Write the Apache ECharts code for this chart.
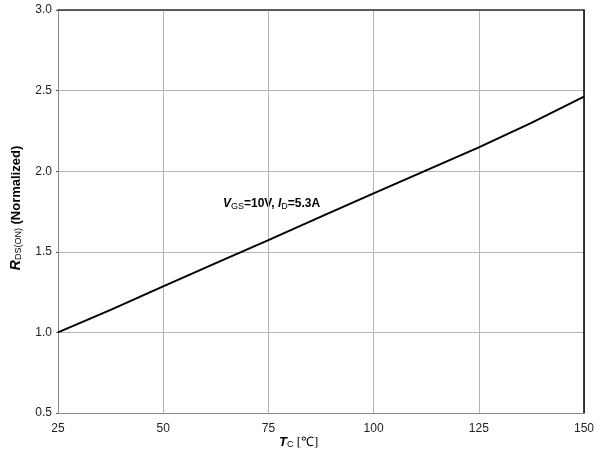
<!DOCTYPE html>
<html><head><meta charset="utf-8">
<script src="https://cdn.jsdelivr.net/npm/echarts@6/dist/echarts.min.js"></script>
<style>html,body{margin:0;padding:0;background:#fff}#c{width:600px;height:455px}</style>
</head><body><div id="c"></div>
<script>
const tempC = [25, 37.5, 50, 62.5, 75, 87.5, 100, 112.5, 125, 137.5, 150];
const rdsNorm = [1.0, 1.14, 1.285, 1.43, 1.572, 1.718, 1.862, 2.005, 2.148, 2.3, 2.462];
const xTicks = [25, 50, 75, 100, 125, 150];
const yTicks = [0.5, 1.0, 1.5, 2.0, 2.5, 3.0];

const chart = echarts.init(document.getElementById('c'), null, {renderer: 'canvas'});
const font = 'Liberation Sans, Arial, sans-serif';
const grid = {left: 58, right: 16, top: 10, bottom: 42};
chart.setOption({
  animation: false,
  grid: grid,
  xAxis: [{
    type: 'value', min: 25, max: 150, interval: 25,
    axisLine: {show: true, lineStyle: {color: '#888', width: 1}},
    axisTick: {show: false},
    axisLabel: {color: '#222', fontSize: 12, fontFamily: font, margin: 10,
      formatter: v => xTicks.includes(v) ? String(v) : ''},
    splitLine: {show: true, lineStyle: {color: '#b4b4b4', width: 1}}
  }, {
    type: 'value', position: 'top', min: 25, max: 150, interval: 25,
    axisLine: {show: true, lineStyle: {color: '#333', width: 1.5}},
    axisTick: {show: false}, axisLabel: {show: false}, splitLine: {show: false}
  }],
  yAxis: [{
    type: 'value', min: 0.5, max: 3.0, interval: 0.5,
    axisLine: {show: true, lineStyle: {color: '#888', width: 1}},
    axisTick: {show: true, length: 2, lineStyle: {color: '#555'}},
    axisLabel: {color: '#222', fontSize: 12, fontFamily: font, margin: 6,
      formatter: v => yTicks.some(t => Math.abs(t - v) < 1e-9) ? v.toFixed(1) : ''},
    splitLine: {show: true, lineStyle: {color: '#b4b4b4', width: 1}}
  }, {
    type: 'value', position: 'right', min: 0.5, max: 3.0, interval: 0.5,
    axisLine: {show: true, lineStyle: {color: '#000', width: 1.5}},
    axisTick: {show: false}, axisLabel: {show: false}, splitLine: {show: false}
  }],
  series: [{
    type: 'line', data: tempC.map((t, i) => [t, rdsNorm[i]]),
    showSymbol: false, smooth: false,
    lineStyle: {color: '#000', width: 2}
  }],
  graphic: [{
    type: 'text', left: 223, top: 198,
    style: {
      rich: {
        i: {fontStyle: 'italic', fontWeight: 'bold', fontSize: 12, fontFamily: font, fill: '#000'},
        b: {fontWeight: 'bold', fontSize: 12, fontFamily: font, fill: '#000'},
        s: {fontWeight: 'normal', fontSize: 9, fontFamily: font, fill: '#000', padding: [5, 0, 0, 0]}
      },
      text: '{i|V}{s|GS}{b|=10V, }{i|I}{s|D}{b|=5.3A}'
    }
  }, {
    type: 'text', left: 279, top: 436,
    style: {
      rich: {
        i: {fontStyle: 'italic', fontWeight: 'bold', fontSize: 13, fontFamily: font, fill: '#000'},
        n: {fontWeight: 'normal', fontSize: 13, fontFamily: 'Liberation Serif, serif', fill: '#000'},
        s: {fontWeight: 'normal', fontSize: 9, fontFamily: font, fill: '#000', padding: [5, 0, 0, 0]}
      },
      text: '{i|T}{s|C} {n|[℃]}'
    }
  }, {
    type: 'text', x: 16, y: 208, rotation: Math.PI / 2,
    style: {
      align: 'center', verticalAlign: 'middle',
      rich: {
        i: {fontStyle: 'italic', fontWeight: 'bold', fontSize: 14, fontFamily: font, fill: '#000'},
        b: {fontWeight: 'bold', fontSize: 13, fontFamily: font, fill: '#000'},
        s: {fontWeight: 'normal', fontSize: 9, fontFamily: font, fill: '#000', padding: [5, 0, 0, 0]}
      },
      text: '{i|R}{s|DS(ON)}{b| (Normalized)}'
    }
  }]
});
</script></body></html>
